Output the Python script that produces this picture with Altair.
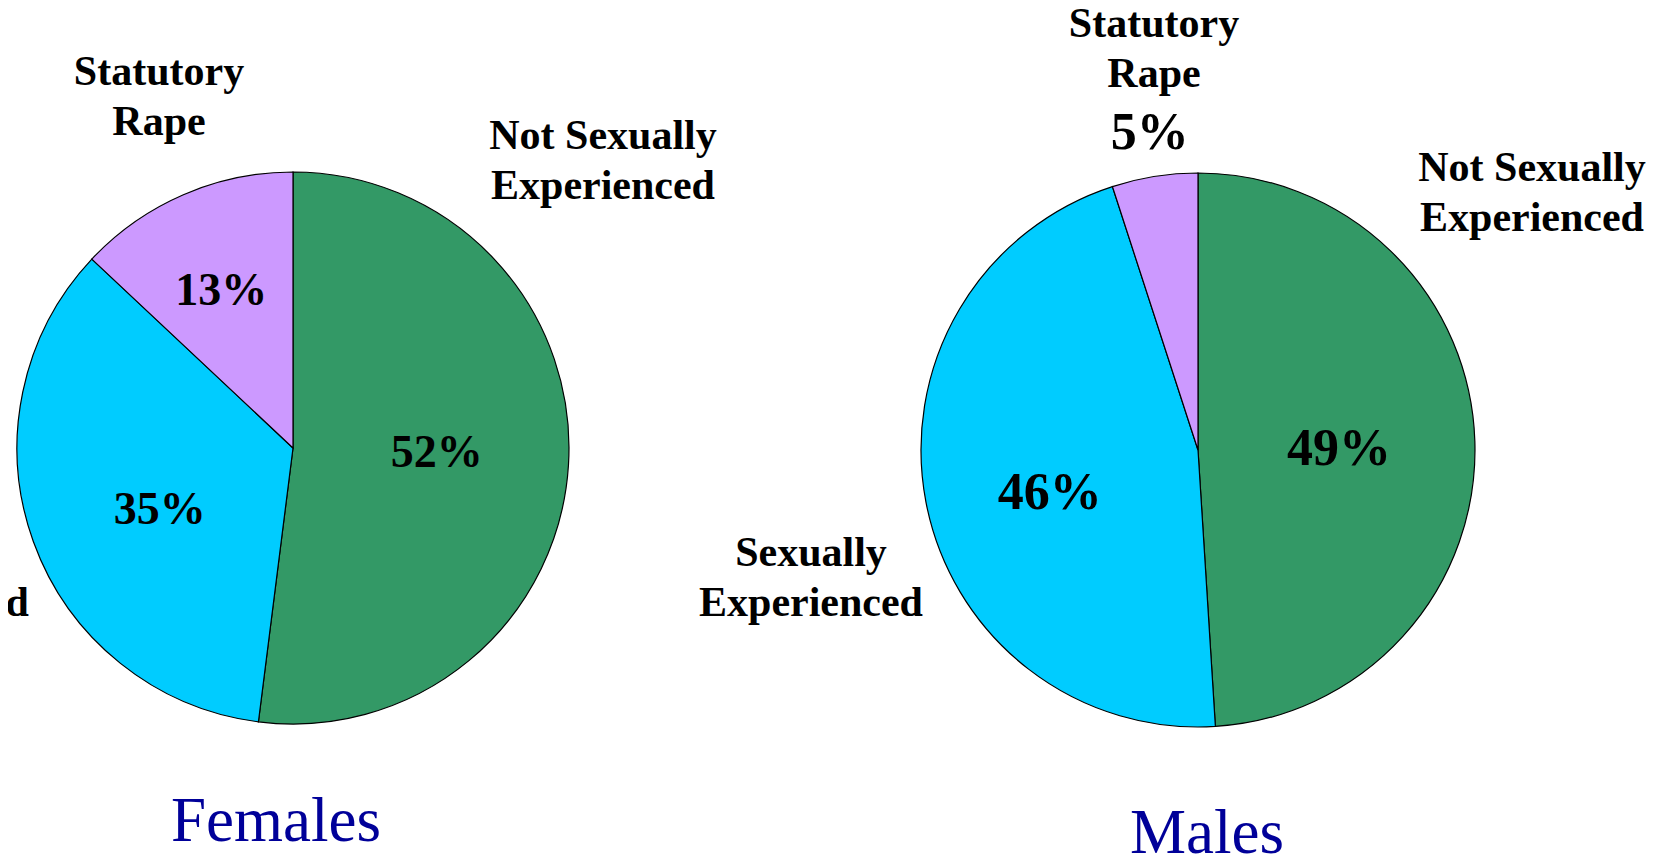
import altair as alt
import pandas as pd

categories = ["Not Sexually Experienced", "Sexually Experienced", "Statutory Rape"]
female_values = [52, 35, 13]
male_values = [49, 46, 5]
colors = ["#339966", "#00CCFF", "#CC99FF"]
groups = ["Females", "Males"]

FONT = "Liberation Serif"
W, H = 1646, 847


def frame(vals, group):
    return pd.DataFrame({
        "category": categories,
        "value": vals,
        "order": list(range(len(categories))),
        "group": group,
        "label": [c.rsplit(" ", 1)[0] + "\n" + c.rsplit(" ", 1)[1] for c in categories],
        "pct": [f"{v}%" for v in vals],
    })


fdf = frame(female_values, groups[0])
mdf = frame(male_values, groups[1])

color = alt.Color("category:N", scale=alt.Scale(domain=categories, range=colors), legend=None)
theta_stack = alt.Theta("value:Q", stack=True, scale=alt.Scale(domain=[0, 100]))
theta_mid = alt.Theta("mid:Q", scale=alt.Scale(domain=[0, 100]))


def pie(df, cx, cy, r):
    return alt.Chart(df).mark_arc(outerRadius=r, stroke="black", strokeWidth=1.2).encode(
        theta=theta_stack, color=color, order=alt.Order("order:Q"),
        x=alt.value(cx), y=alt.value(cy))


def pct(df, cat, cx, cy, r, size, dx=0, dy=0):
    return alt.Chart(df).transform_window(
        cum="sum(value)", sort=[alt.SortField("order")], frame=[None, 0]
    ).transform_calculate(
        mid="datum.cum - datum.value / 2"
    ).transform_filter(
        alt.datum.category == cat
    ).mark_text(radius=r, font=FONT, fontWeight="bold", fontSize=size, dx=dx, dy=dy,
                baseline="middle", align="center", color="black").encode(
        theta=theta_mid, text="pct:N", x=alt.value(cx), y=alt.value(cy))


def cat_label(df, cat, x, y):
    return alt.Chart(df).transform_filter(alt.datum.category == cat).mark_text(
        font=FONT, fontWeight="bold", fontSize=42, lineBreak="\n", lineHeight=50,
        baseline="middle", align="center", color="black").encode(
        text="label:N", x=alt.value(x), y=alt.value(y))


def title(df, x, y):
    return alt.Chart(df).transform_filter(alt.datum.order == 0).mark_text(
        font=FONT, fontSize=63, baseline="alphabetic", align="center", color="#000099").encode(
        text="group:N", x=alt.value(x), y=alt.value(y))


layers = [
    pie(fdf, 285, 440, 276),
    pie(mdf, 1190, 442, 277),
    pct(fdf, categories[0], 285, 440, 144, 46, 0, -4),
    pct(fdf, categories[1], 285, 440, 147, 46, 5, 12),
    pct(fdf, categories[2], 285, 440, 173, 46, -3, 2),
    pct(mdf, categories[0], 1190, 442, 141, 52, 0, 3),
    pct(mdf, categories[1], 1190, 442, 154, 52, 3, 14),
    pct(mdf, categories[2], 1190, 442, 321, 52, 2, 0),
    cat_label(fdf, categories[0], 595, 128),
    cat_label(fdf, categories[1], -91, 545),
    cat_label(fdf, categories[2], 151, 64),
    cat_label(mdf, categories[0], 1524, 160),
    cat_label(mdf, categories[1], 803, 545),
    cat_label(mdf, categories[2], 1146, 16),
    title(fdf, 268, 833),
    title(mdf, 1199, 845),
]

chart = alt.layer(*layers).properties(
    width=W, height=H, padding=0, autosize=alt.AutoSizeParams(type="none")
).configure_view(stroke=None)

chart.save("out.html", embed_options={"renderer": "svg", "actions": False})
